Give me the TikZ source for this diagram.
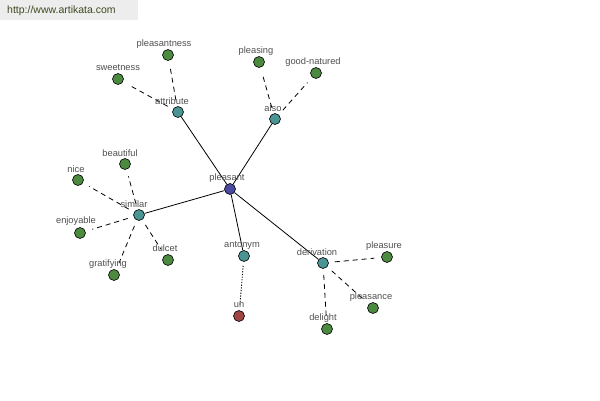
\documentclass[tikz,border=0pt]{standalone}
\usepackage{fontspec}
\setmainfont{Liberation Sans}
\begin{document}
\begin{tikzpicture}[x=1pt,y=-1pt,
  dot/.style={circle,draw=black,line width=0.6pt,minimum size=11pt,inner sep=0pt},
  hubc/.style={dot,fill=hubblue},
  midc/.style={dot,fill=midteal},
  leafc/.style={dot,fill=leafgreen},
  antc/.style={dot,fill=antred},
  lab/.style={font=\fontsize{9.3}{10}\selectfont,text=labgrey,inner sep=0pt},
  solidedge/.style={line width=0.8pt},
  dashedge/.style={line width=0.8pt,dash pattern=on 5pt off 4pt,shorten <=6pt,shorten >=7pt},
  dotedge/.style={line width=0.9pt,dash pattern=on 1.2pt off 1.5pt,shorten <=4pt,shorten >=5pt}]
\definecolor{hubblue}{HTML}{4A4AA0}
\definecolor{midteal}{HTML}{4A9494}
\definecolor{leafgreen}{HTML}{4C8A40}
\definecolor{antred}{HTML}{A04444}
\definecolor{labgrey}{HTML}{505050}
\definecolor{hdrgrey}{HTML}{EDEDED}
\definecolor{hdrtext}{HTML}{3E4A20}
\useasboundingbox[fill=white] (0,0) rectangle (600,400);
\fill[hdrgrey] (0,0) rectangle (138,20);
\node[font=\fontsize{10.5}{11}\selectfont,text=hdrtext,anchor=west,inner sep=0pt] (hdr) at (7,11) {http://www.artikata.com};

% nodes
\node[hubc] (pleasant) at (230,189) {};
\node[midc] (attribute) at (178,112) {};
\node[midc] (also) at (275,119) {};
\node[midc] (similar) at (139,215) {};
\node[midc] (antonym) at (244,256) {};
\node[midc] (derivation) at (323,263) {};
\node[leafc] (pleasantness) at (168,55) {};
\node[leafc] (sweetness) at (118,79) {};
\node[leafc] (pleasing) at (259,62) {};
\node[leafc] (goodnatured) at (316,73) {};
\node[leafc] (beautiful) at (125,164) {};
\node[leafc] (nice) at (78,180) {};
\node[leafc] (enjoyable) at (80,233) {};
\node[leafc] (gratifying) at (114,275) {};
\node[leafc] (dulcet) at (168,260) {};
\node[antc] (un) at (239,316) {};
\node[leafc] (pleasure) at (387,257) {};
\node[leafc] (pleasance) at (373,308) {};
\node[leafc] (delight) at (327,329) {};

% edges
\draw[solidedge] (pleasant) -- (attribute);
\draw[solidedge] (pleasant) -- (also);
\draw[solidedge] (pleasant) -- (similar);
\draw[solidedge] (pleasant) -- (antonym);
\draw[solidedge] (pleasant) -- (derivation);
\draw[dashedge] (attribute) -- (pleasantness);
\draw[dashedge] (attribute) -- (sweetness);
\draw[dashedge] (also) -- (pleasing);
\draw[dashedge] (also) -- (goodnatured);
\draw[dashedge] (similar) -- (beautiful);
\draw[dashedge] (similar) -- (nice);
\draw[dashedge] (similar) -- (enjoyable);
\draw[dashedge] (similar) -- (gratifying);
\draw[dashedge] (similar) -- (dulcet);
\draw[dotedge] (antonym) -- (un);
\draw[dashedge] (derivation) -- (pleasure);
\draw[dashedge] (derivation) -- (pleasance);
\draw[dashedge] (derivation) -- (delight);

% labels
\node[lab] (lpleasant) at (227,178) {pleasant};
\node[lab] (lattribute) at (172,101) {attribute};
\node[lab] (lalso) at (273,108) {also};
\node[lab] (lsimilar) at (134,204) {similar};
\node[lab] (lantonym) at (242,245) {antonym};
\node[lab] (lderivation) at (317,252) {derivation};
\node[lab] (lpleasantness) at (164,44) {pleasantness};
\node[lab] (lsweetness) at (118,68) {sweetness};
\node[lab] (lpleasing) at (256,51) {pleasing};
\node[lab] (lgoodnatured) at (313,62) {good-natured};
\node[lab] (lbeautiful) at (120,153) {beautiful};
\node[lab] (lnice) at (76,169) {nice};
\node[lab] (lenjoyable) at (76,221) {enjoyable};
\node[lab] (lgratifying) at (108,264) {gratifying};
\node[lab] (ldulcet) at (165,248) {dulcet};
\node[lab] (lun) at (239,305) {un};
\node[lab] (lpleasure) at (384,246) {pleasure};
\node[lab] (lpleasance) at (371,297) {pleasance};
\node[lab] (ldelight) at (323,318) {delight};
\end{tikzpicture}
\end{document}
